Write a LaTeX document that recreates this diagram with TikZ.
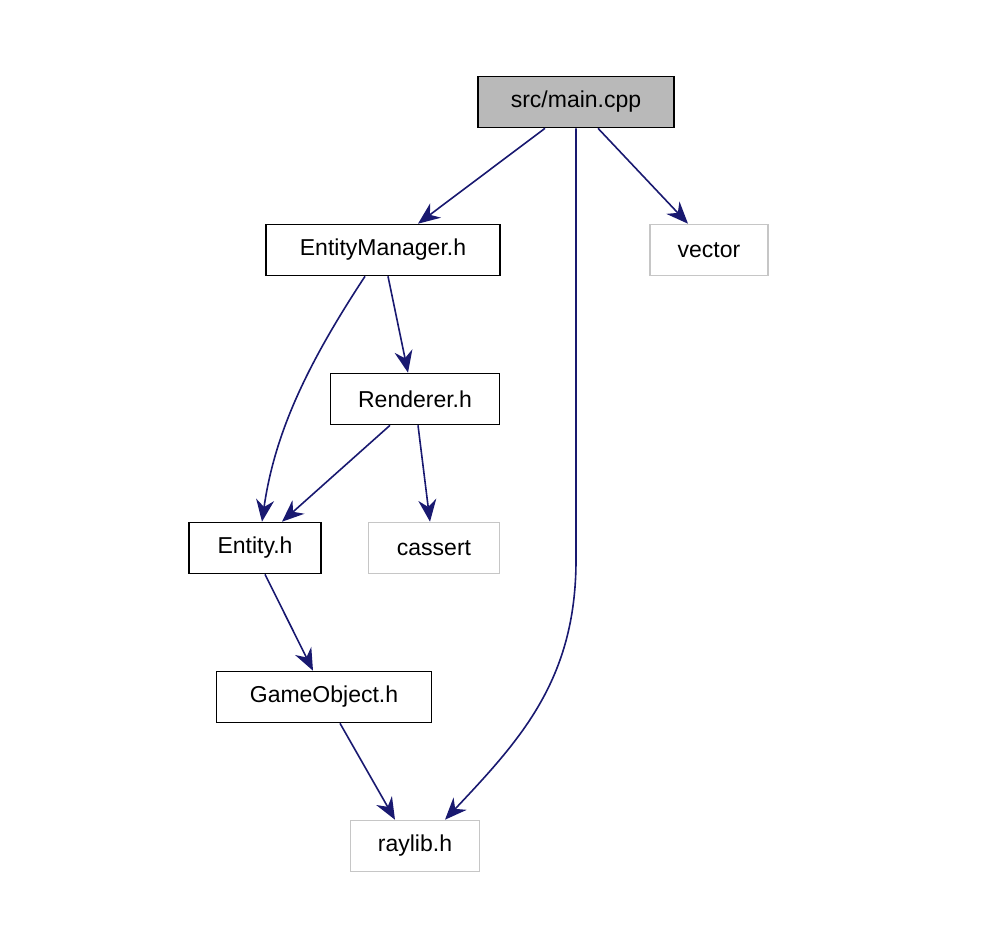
\documentclass[tikz,border=0pt]{standalone}
\usepackage{fontspec}
\setmainfont{Liberation Sans}
\usetikzlibrary{arrows.meta}
\begin{document}
\begin{tikzpicture}[x=1pt,y=-1pt,
  box/.style={draw=black,line width=1.6pt,minimum height=51pt,inner sep=0pt,font=\fontsize{23}{26}\selectfont},
  ext/.style={draw=gray!45,line width=1.6pt,minimum height=51pt,inner sep=0pt,font=\fontsize{23}{26}\selectfont},
  edge/.style={draw={rgb,255:red,25;green,25;blue,112},line width=1.6pt,-{Stealth[length=22pt,width=18pt]}}]
\useasboundingbox (0,0) rectangle (984,948);
\node[box,fill=gray!55,minimum width=196pt] (main) at (576,102) {src/main.cpp};
\node[box,minimum width=234pt] (em) at (383,250) {EntityManager.h};
\node[ext,minimum width=118pt] (vec) at (709,250) {vector};
\node[box,minimum width=169pt] (ren) at (415,399) {Renderer.h};
\node[box,minimum width=132pt] (ent) at (255,548) {Entity.h};
\node[ext,minimum width=131pt] (cas) at (434,548) {cassert};
\node[box,minimum width=215pt] (go) at (324,697) {GameObject.h};
\node[ext,minimum width=129pt] (ray) at (415,846) {raylib.h};
\draw[edge] (main.south -| 545,0) -- (em.north -| 418,0);
\draw[edge] (main.south -| 598,0) -- (vec.north -| 688,0);
\draw[edge] (main.south) -- (576,560) .. controls (576,680) and (520,740) .. (ray.north -| 445,0);
\draw[edge] (em.south -| 365,0) .. controls (310,360) and (275,430) .. (ent.north -| 262,0);
\draw[edge] (em.south -| 388,0) -- (ren.north -| 408,0);
\draw[edge] (ren.south -| 390,0) -- (ent.north -| 282,0);
\draw[edge] (ren.south -| 418,0) -- (cas.north -| 430,0);
\draw[edge] (ent.south -| 265,0) -- (go.north -| 313,0);
\draw[edge] (go.south -| 340,0) -- (ray.north -| 395,0);
\end{tikzpicture}
\end{document}
